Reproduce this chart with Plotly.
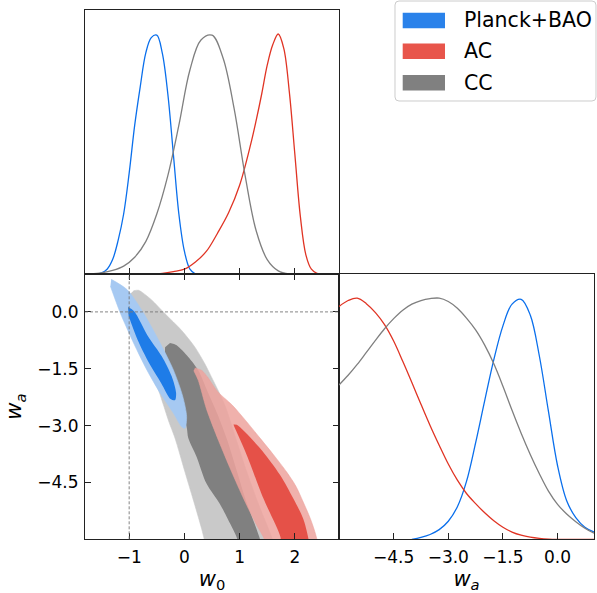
import plotly.graph_objects as go

# ---------------- data ----------------
series_names = ["Planck+BAO", "AC", "CC"]

# 1D marginal of w0 (normalised to peak = 1)
w0_grid_planck = [-1.6, -1.5, -1.4, -1.3, -1.2, -1.1, -1.0, -0.9, -0.8, -0.7, -0.6, -0.5,
                  -0.4, -0.3, -0.2, -0.1, 0.0, 0.1, 0.2]
w0_pdf_planck = [0.0, 0.005, 0.02, 0.06, 0.14, 0.25, 0.42, 0.62, 0.78, 0.92, 0.985, 0.995,
                 0.92, 0.75, 0.50, 0.25, 0.095, 0.02, 0.0]

w0_grid_ac = [-0.6, -0.4, -0.2, 0.0, 0.2, 0.4, 0.6, 0.8, 1.0, 1.2, 1.3, 1.4, 1.5, 1.6, 1.7,
              1.8, 1.9, 2.0, 2.1, 2.2, 2.3, 2.4, 2.5]
w0_pdf_ac = [0.0, 0.003, 0.01, 0.02, 0.05, 0.095, 0.17, 0.255, 0.37, 0.54, 0.64, 0.75, 0.87, 0.955, 1.0,
             0.94, 0.76, 0.50, 0.24, 0.08, 0.02, 0.003, 0.0]

w0_grid_cc = [-1.7, -1.5, -1.3, -1.1, -0.9, -0.7, -0.5, -0.3, -0.1, 0.1, 0.3, 0.5, 0.7, 0.9,
              1.1, 1.3, 1.5, 1.7, 1.9]
w0_pdf_cc = [0.0, 0.005, 0.015, 0.033, 0.07, 0.135, 0.25, 0.41, 0.62, 0.85, 0.975, 0.995, 0.90, 0.69,
             0.41, 0.18, 0.06, 0.013, 0.0]

# 1D marginal of wa
wa_grid = [-6.0, -5.75, -5.5, -5.25, -5.0, -4.75, -4.5, -4.25, -4.0, -3.75, -3.5, -3.25, -3.0,
           -2.75, -2.5, -2.25, -2.0, -1.75, -1.5, -1.25, -1.0, -0.75, -0.5, -0.25, 0.0,
           0.25, 0.5, 0.75, 1.0]
wa_pdf_planck = [None, None, None, None, None, None, None, None, 0.0, 0.008, 0.02, 0.04, 0.075,
                 0.135, 0.24, 0.40, 0.575, 0.745, 0.885, 0.975, 0.995, 0.93, 0.76, 0.53, 0.305,
                 0.16, 0.09, 0.05, 0.03]
wa_pdf_ac = [0.965, 0.99, 1.0, 0.977, 0.94, 0.89, 0.822, 0.738, 0.65, 0.56, 0.472, 0.39, 0.312,
             0.245, 0.19, 0.148, 0.11, 0.077, 0.05, 0.03, 0.017, 0.009, 0.004, 0.001, 0.0,
             0.0, 0.0, 0.0, 0.0]
wa_pdf_cc = [0.64, 0.68, 0.725, 0.775, 0.825, 0.873, 0.915, 0.95, 0.975, 0.99, 0.998, 1.0, 0.986,
             0.958, 0.917, 0.868, 0.805, 0.728, 0.635, 0.535, 0.44, 0.352, 0.272, 0.2, 0.145,
             0.105, 0.073, 0.046, 0.025]

# 2D credible-region boundaries (w0, wa) : 68% inner, 95% outer
planck_95_w0 = [-1.325, -1.04, -0.74, -0.44, -0.20, -0.03, 0.04, 0.01,
                -0.05, -0.20, -0.44, -0.68, -0.92, -1.16, -1.34]
planck_95_wa = [0.86, 0.59, -0.03, -0.82, -1.53, -2.23, -2.76, -3.07,
                -3.03, -2.67, -2.14, -1.53, -0.82, -0.03, 0.68]
planck_68_w0 = [-1.02, -0.91, -0.66, -0.41, -0.23, -0.15, -0.17, -0.25, -0.42, -0.64, -0.85, -1.01]
planck_68_wa = [0.13, 0.02, -0.64, -1.17, -1.70, -2.14, -2.33, -2.30, -1.88, -1.35, -0.73, -0.11]

ac_95_w0 = [0.19, 0.32, 0.42, 0.60, 0.86, 1.10, 1.37, 1.62, 1.85, 2.02, 2.15, 2.28, 2.39, 2.42,
            1.50, 1.45, 1.30, 1.08, 0.85, 0.62, 0.40, 0.25, 0.17]
ac_95_wa = [-1.48, -1.55, -1.72, -2.10, -2.45, -2.85, -3.33, -3.78, -4.22, -4.60, -5.01, -5.45, -5.94, -6.3,
            -6.3, -6.0, -5.6, -4.95, -4.2, -3.4, -2.56, -1.8, -1.55]
ac_68_w0 = [0.89, 0.95, 1.37, 1.73, 1.97, 2.15, 2.24, 2.26, 1.76, 1.74, 1.43, 1.13, 0.90]
ac_68_wa = [-2.97, -2.98, -3.60, -4.30, -4.92, -5.45, -5.94, -6.3, -6.3, -5.94, -4.92, -3.78, -3.02]

cc_95_w0 = [-0.98, -0.90, -0.75, -0.55, -0.38, -0.28, -0.17, 0.01, 0.19, 0.31, 0.36, 0.40,
            1.65, 1.58, 1.35, 1.13, 0.93, 0.73, 0.46, 0.37, 0.19, -0.05, -0.35, -0.59, -0.75, -0.83, -0.92]
cc_95_wa = [0.48, 0.0, -0.8, -1.7, -2.45, -2.9, -3.33, -4.22, -5.10, -5.71, -6.0, -6.3,
            -6.3, -5.94, -5.1, -4.22, -3.33, -2.45, -1.63, -1.37, -0.93, -0.49, -0.05, 0.31, 0.50, 0.57, 0.56]
cc_68_w0 = [-0.26, -0.14, 0.07, 0.25, 0.42, 0.60, 0.78, 0.95, 1.12, 1.30, 1.37, 1.42,
            0.98, 0.96, 0.83, 0.64, 0.40, 0.22, 0.07, 0.04, -0.08, -0.29, -0.35, -0.35]
cc_68_wa = [-0.82, -0.88, -1.19, -1.54, -2.10, -2.70, -3.40, -4.20, -5.00, -5.70, -6.0, -6.3,
            -6.3, -6.0, -5.59, -5.06, -4.53, -3.82, -3.33, -3.03, -2.59, -1.97, -1.19, -0.93]

# reference (LCDM) values and ticks
w0_ref = -1.0
wa_ref = 0.0
w0_range = [-1.8, 2.8]
wa_range = [-6.0, 1.0]
pdf_range = [0, 1.1]
w0_ticks = [-1, 0, 1, 2]
w0_ticktext = ["\u22121", "0", "1", "2"]
wa_ticks = [-4.5, -3.0, -1.5, 0.0]
wa_ticktext = ["\u22124.5", "\u22123.0", "\u22121.5", "0.0"]

# ---------------- style ----------------
line_col = {"Planck+BAO": "#0a6fec", "AC": "#e03424", "CC": "#7f7f7f"}
fill_in = {"Planck+BAO": "rgba(30,124,232,1)", "AC": "rgba(227,65,54,0.85)", "CC": "rgba(128,128,128,1)"}
fill_out = {"Planck+BAO": "rgba(166,201,242,1)", "AC": "rgba(237,163,157,0.85)", "CC": "rgba(201,201,201,1)"}
legend_col = {"Planck+BAO": "#2a82ea", "AC": "#e8554b", "CC": "#808080"}

W, H = 597, 593
XL = [85 / W, 339 / W]
XR = [339 / W, 594 / W]
YT = [1 - 274 / H, 1 - 10 / H]
YB = [1 - 539.3 / H, 1 - 274 / H]

FONT = "DejaVu Sans"
fig = go.Figure()

# 2D contours: CC bottom, then AC, then Planck+BAO on top
contours = [
    ("CC", cc_95_w0, cc_95_wa, cc_68_w0, cc_68_wa),
    ("AC", ac_95_w0, ac_95_wa, ac_68_w0, ac_68_wa),
    ("Planck+BAO", planck_95_w0, planck_95_wa, planck_68_w0, planck_68_wa),
]
for name, ox, oy, ix, iy in contours:
    fig.add_trace(go.Scatter(
        x=ox, y=oy, fill="toself", fillcolor=fill_out[name], mode="lines",
        line=dict(width=0.6, color=fill_out[name], shape="spline", smoothing=0.8),
        xaxis="x2", yaxis="y2", showlegend=False, hoverinfo="skip"))
    fig.add_trace(go.Scatter(
        x=ix, y=iy, fill="toself", fillcolor=fill_in[name], mode="lines",
        line=dict(width=0, color=fill_in[name], shape="spline", smoothing=0.8),
        xaxis="x2", yaxis="y2", showlegend=False, hoverinfo="skip"))

# 1D marginals
one_d = [
    ("Planck+BAO", w0_grid_planck, w0_pdf_planck, wa_pdf_planck),
    ("AC", w0_grid_ac, w0_pdf_ac, wa_pdf_ac),
    ("CC", w0_grid_cc, w0_pdf_cc, wa_pdf_cc),
]
for name, gx, px, pa in one_d:
    fig.add_trace(go.Scatter(x=gx, y=px, mode="lines", xaxis="x", yaxis="y",
                             line=dict(color=line_col[name], width=1.3, shape="spline", smoothing=1.0),
                             showlegend=False, hoverinfo="skip"))
    fig.add_trace(go.Scatter(x=wa_grid, y=pa, mode="lines", xaxis="x3", yaxis="y3",
                             line=dict(color=line_col[name], width=1.3, shape="spline", smoothing=1.0),
                             showlegend=False, hoverinfo="skip"))

axis_common = dict(showline=True, linecolor="#222222", linewidth=1.1, showgrid=False, zeroline=False,
                   ticks="inside", ticklen=6, tickwidth=1, tickcolor="#222222",
                   tickfont=dict(family=FONT, size=17, color="black"))

# legend drawn as a framed box with colour patches (matplotlib style)
LX0, LX1, LY0, LY1, R = 395, 596, 1, 101, 4
def px2paper(x, y):
    return x / W, 1 - y / H

def rounded_path(x0, y0, x1, y1, r):
    def P(x, y):
        a, b = px2paper(x, y)
        return f"{a:.5f},{b:.5f}"
    return (f"M{P(x0 + r, y0)} L{P(x1 - r, y0)} Q{P(x1, y0)} {P(x1, y0 + r)} "
            f"L{P(x1, y1 - r)} Q{P(x1, y1)} {P(x1 - r, y1)} L{P(x0 + r, y1)} "
            f"Q{P(x0, y1)} {P(x0, y1 - r)} L{P(x0, y0 + r)} Q{P(x0, y0)} {P(x0 + r, y0)} Z")

shapes = [
    dict(type="line", xref="x2", yref="y2 domain", x0=w0_ref, x1=w0_ref, y0=0, y1=1,
         line=dict(color="#777777", width=0.9, dash="3px,2px"), layer="above"),
    dict(type="line", xref="x2 domain", yref="y2", x0=0, x1=1, y0=wa_ref, y1=wa_ref,
         line=dict(color="#777777", width=0.9, dash="3px,2px"), layer="above"),
    dict(type="path", xref="paper", yref="paper", path=rounded_path(LX0, LY0, LX1, LY1, R),
         fillcolor="rgba(255,255,255,0.8)", line=dict(color="#cccccc", width=1), layer="above"),
]
annotations = []
row_centres = [20.5, 51.3, 82.8]
for name, yc in zip(series_names, row_centres):
    x0, y0 = px2paper(402.7, yc - 7.8)
    x1, y1 = px2paper(445.0, yc + 7.8)
    shapes.append(dict(type="rect", xref="paper", yref="paper", x0=x0, x1=x1, y0=y1, y1=y0,
                       fillcolor=legend_col[name], line=dict(width=0), layer="above"))
    tx, ty = px2paper(461.5, yc)
    annotations.append(dict(text=name, xref="paper", yref="paper", x=tx, y=ty,
                            xanchor="left", yanchor="middle", showarrow=False,
                            font=dict(family=FONT, size=20.5, color="black")))

fig.update_layout(
    width=W, height=H,
    margin=dict(l=0, r=0, t=0, b=0),
    paper_bgcolor="white", plot_bgcolor="white",
    font=dict(family=FONT, color="black"),
    showlegend=False,
    xaxis=dict(domain=XL, anchor="y", range=w0_range, tickvals=w0_ticks, showticklabels=False,
               mirror=True, **axis_common),
    yaxis=dict(domain=YT, anchor="x", range=pdf_range, showticklabels=False, mirror=True,
               showline=True, linecolor="#222222", linewidth=1.1, showgrid=False, zeroline=False, ticks=""),
    xaxis2=dict(domain=XL, anchor="y2", range=w0_range, tickvals=w0_ticks, ticktext=w0_ticktext,
                mirror="ticks", ticklabelstandoff=2,
                title=dict(text="<i>w</i><sub>0</sub>", font=dict(size=21, family=FONT), standoff=10),
                **axis_common),
    yaxis2=dict(domain=YB, anchor="x2", range=wa_range, tickvals=wa_ticks, ticktext=wa_ticktext,
                mirror="ticks", ticklabelstandoff=2,
                title=dict(text="<i>w<sub>a</sub></i>", font=dict(size=21, family=FONT), standoff=9),
                **axis_common),
    xaxis3=dict(domain=XR, anchor="y3", range=wa_range, tickvals=wa_ticks, ticktext=wa_ticktext,
                mirror=True, ticklabelstandoff=2,
                title=dict(text="<i>w<sub>a</sub></i>", font=dict(size=21, family=FONT), standoff=10),
                **axis_common),
    yaxis3=dict(domain=YB, anchor="x3", range=pdf_range, showticklabels=False, mirror=True,
                showline=True, linecolor="#222222", linewidth=1.1, showgrid=False, zeroline=False, ticks=""),
    shapes=shapes,
    annotations=annotations,
)

fig.write_html("out.html", config={"displayModeBar": False},
               post_script="document.body.style.margin='0';document.body.style.padding='0';")
